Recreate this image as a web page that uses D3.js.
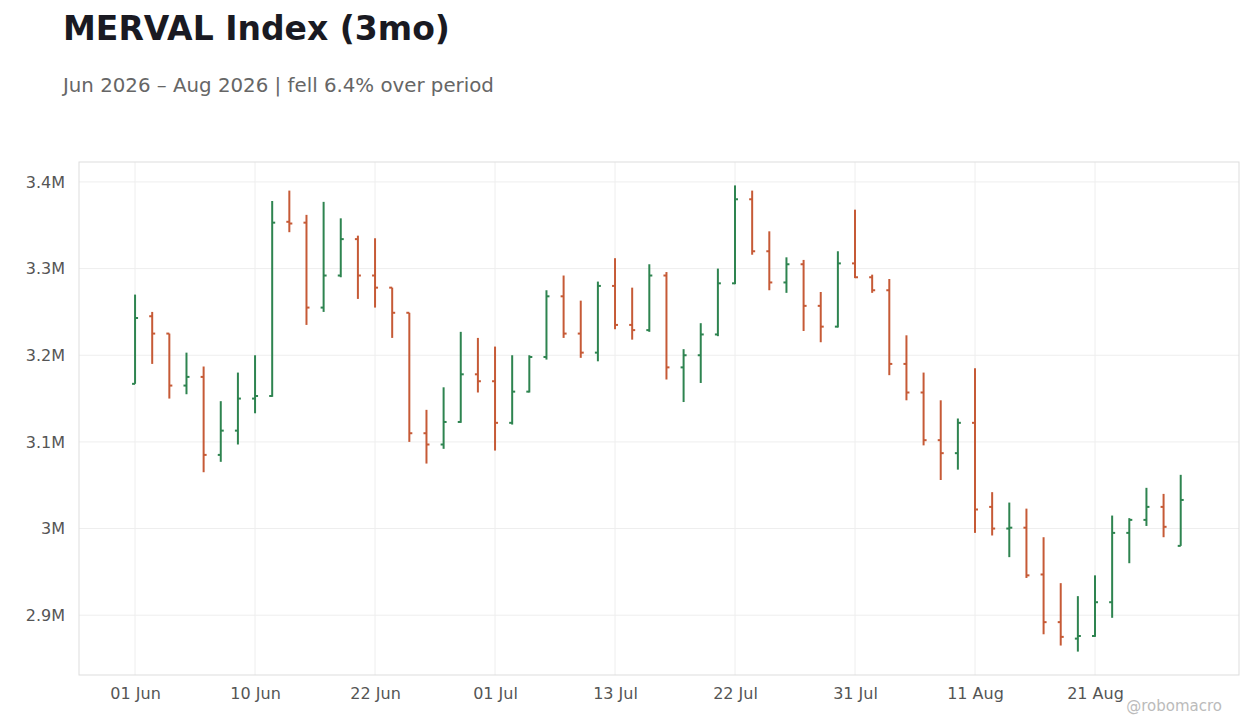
<!DOCTYPE html>
<html><head><meta charset="utf-8">
<script src="https://cdn.jsdelivr.net/npm/d3@7"></script>
<style>body{margin:0;background:#fff;font-family:"DejaVu Sans",sans-serif}</style>
</head><body><svg id="c" width="1260" height="728"></svg>
<script>
const opens  =[3.167,3.245,3.225,3.165,3.175,3.085,3.113,3.150,3.153,3.354,3.353,3.255,3.292,3.334,3.292,3.278,3.249,3.110,3.097,3.123,3.178,3.170,3.122,3.158,3.198,3.268,3.225,3.203,3.280,3.235,3.229,3.292,3.186,3.200,3.224,3.283,3.380,3.320,3.284,3.305,3.257,3.233,3.306,3.290,3.275,3.190,3.157,3.102,3.087,3.122,3.025,3.000,3.001,2.947,2.892,2.873,2.876,2.915,2.995,3.010,3.025,2.980];
const highs  =[3.270,3.250,3.225,3.203,3.187,3.147,3.180,3.200,3.378,3.390,3.362,3.377,3.358,3.338,3.335,3.278,3.249,3.137,3.163,3.227,3.220,3.210,3.200,3.200,3.275,3.292,3.263,3.285,3.312,3.278,3.305,3.296,3.207,3.237,3.300,3.396,3.390,3.343,3.313,3.310,3.273,3.320,3.368,3.293,3.288,3.223,3.180,3.148,3.127,3.185,3.042,3.030,3.023,2.990,2.937,2.922,2.946,3.015,3.012,3.047,3.040,3.062];
const lows   =[3.167,3.190,3.150,3.155,3.065,3.077,3.097,3.133,3.152,3.342,3.235,3.250,3.290,3.265,3.255,3.220,3.100,3.075,3.092,3.122,3.157,3.090,3.120,3.157,3.195,3.220,3.197,3.193,3.230,3.218,3.227,3.172,3.146,3.168,3.222,3.282,3.316,3.275,3.272,3.228,3.215,3.232,3.289,3.272,3.177,3.148,3.096,3.056,3.068,2.995,2.992,2.967,2.943,2.878,2.865,2.858,2.875,2.897,2.960,3.003,2.990,2.980];
const closes =[3.243,3.225,3.165,3.175,3.085,3.113,3.150,3.153,3.353,3.352,3.255,3.292,3.334,3.292,3.278,3.249,3.110,3.097,3.123,3.178,3.170,3.122,3.158,3.198,3.268,3.225,3.203,3.280,3.235,3.229,3.292,3.186,3.200,3.224,3.283,3.380,3.320,3.284,3.305,3.257,3.233,3.306,3.290,3.275,3.190,3.157,3.102,3.087,3.122,3.022,3.000,3.001,2.946,2.892,2.875,2.876,2.915,2.995,3.010,3.025,3.002,3.033];
const tickIdx=[0,7,14,21,28,35,42,49,56];
const tickLabels=["01 Jun","10 Jun","22 Jun","01 Jul","13 Jul","22 Jul","31 Jul","11 Aug","21 Aug"];
const yTicks=[2.9,3.0,3.1,3.2,3.3,3.4];

const svg=d3.select("#c");
const L=79,R=1239,T=162,B=675;
const x=d3.scaleLinear().domain([-3.27,64.4]).range([L,R]);
const y=d3.scaleLinear().domain([2.831,3.423]).range([B,T]);
const up="#2e8450", dn="#c65a36";

svg.append("text").attr("x",63).attr("y",40).attr("font-size",33).attr("font-weight","bold").attr("fill","#1a1a22").text("MERVAL Index (3mo)");
svg.append("text").attr("x",63).attr("y",92).attr("font-size",19.8).attr("fill","#666").text("Jun 2026 – Aug 2026 | fell 6.4% over period");

const g=svg.append("g");
g.selectAll(".gy").data(yTicks).join("line").attr("x1",L).attr("x2",R).attr("y1",d=>y(d)).attr("y2",d=>y(d)).attr("stroke","#eee");
g.selectAll(".gx").data(tickIdx).join("line").attr("x1",d=>x(d)).attr("x2",d=>x(d)).attr("y1",T).attr("y2",B).attr("stroke","#eee");
g.append("rect").attr("x",L).attr("y",T).attr("width",R-L).attr("height",B-T).attr("fill","none").attr("stroke","#ddd");

const yAx=svg.append("g").attr("transform",`translate(${L},0)`).call(d3.axisLeft(y).tickValues(yTicks).tickSize(0).tickPadding(14).tickFormat(d=>(Math.round(d*10)/10===3?"3":d3.format(".1f")(d))+"M"));
const xAx=svg.append("g").attr("transform",`translate(0,${B})`).call(d3.axisBottom(x).tickValues(tickIdx).tickSize(0).tickPadding(13).tickFormat((d,i)=>tickLabels[i]));
[yAx,xAx].forEach(a=>{a.select(".domain").remove();a.selectAll("text").attr("font-size",16).attr("fill","#555").attr("font-family","DejaVu Sans");});

const idx=d3.range(opens.length);
const bars=svg.append("g").selectAll("g").data(idx).join("g").attr("stroke",i=>closes[i]>=opens[i]?up:dn).attr("stroke-width",2);
bars.append("line").attr("x1",i=>x(i)).attr("x2",i=>x(i)).attr("y1",i=>y(highs[i])).attr("y2",i=>y(lows[i]));
bars.append("line").attr("x1",i=>x(i)-3).attr("x2",i=>x(i)).attr("y1",i=>y(opens[i])).attr("y2",i=>y(opens[i]));
bars.append("line").attr("x1",i=>x(i)).attr("x2",i=>x(i)+3).attr("y1",i=>y(closes[i])).attr("y2",i=>y(closes[i]));

svg.append("text").attr("x",1222).attr("y",711).attr("text-anchor","end").attr("font-size",15).attr("fill","#bbb").text("@robomacro");
</script></body></html>
